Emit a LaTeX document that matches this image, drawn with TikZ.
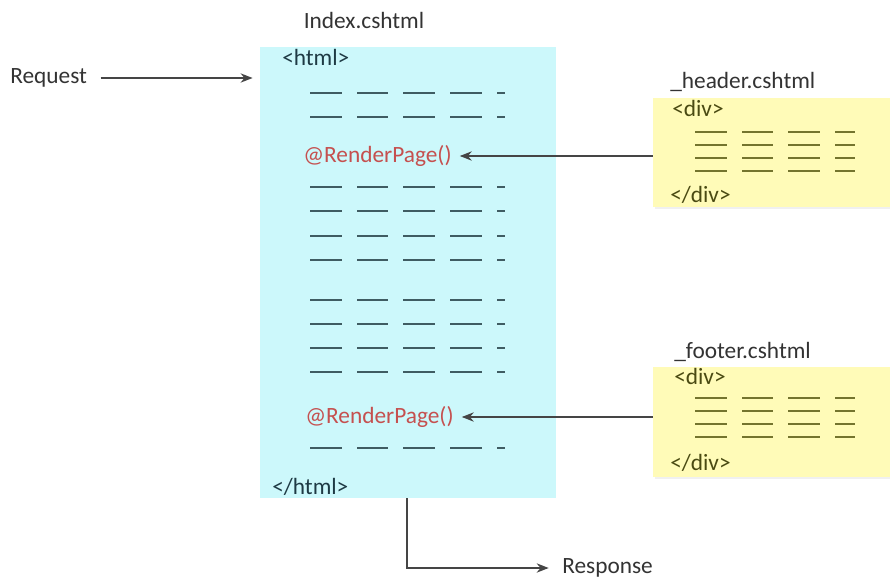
\documentclass[tikz,border=0pt]{standalone}
\usepackage{fontspec}
\setmainfont{Carlito}
\usetikzlibrary{arrows.meta}
\definecolor{pagecyan}{HTML}{CCF8FB}
\definecolor{partyellow}{HTML}{FFFBB8}
\definecolor{codeteal}{HTML}{1E3A44}
\definecolor{dashteal}{HTML}{3F5C62}
\definecolor{codeolive}{HTML}{4A4A12}
\definecolor{dasholive}{HTML}{74742E}
\definecolor{callred}{HTML}{C5504F}
\definecolor{linkgray}{HTML}{454545}
\tikzset{
  lbl/.style={font=\fontsize{17.5}{20}\selectfont, text=black!80, inner sep=0pt},
  code/.style={font=\fontsize{17.5}{20}\selectfont, text=codeteal, inner sep=0pt, anchor=west},
  partcode/.style={font=\fontsize{17.5}{20}\selectfont, text=codeolive, inner sep=0pt, anchor=west},
  call/.style={font=\fontsize{17.5}{20}\selectfont, text=callred, inner sep=0pt, anchor=west},
  pagebox/.style={fill=pagecyan, draw=none, inner sep=0pt},
  partbox/.style={fill=partyellow, draw=none, inner sep=0pt},
  link/.style={draw=linkgray, line width=1.1pt, -{Stealth[length=9pt,width=7pt]}},
  bluedash/.style={draw=dashteal, line width=1.7pt},
  olivedash/.style={draw=dasholive, line width=1.5pt},
}
\begin{document}
\begin{tikzpicture}[x=0.75pt,y=-0.75pt]
\useasboundingbox (0,0) rectangle (890,578);

% main page and the two partial views
\node[pagebox, minimum width=296*0.75pt, minimum height=451*0.75pt] (index) at (407.5,272.5) {};
\fill[black!6] (655,100) rectangle (890,209);
\node[partbox, minimum width=237*0.75pt, minimum height=109*0.75pt] (header) at (771.5,152.5) {};
\fill[black!6] (655,369) rectangle (890,479);
\node[partbox, minimum width=237*0.75pt, minimum height=110*0.75pt] (footer) at (771.5,422) {};

% file names
\node[lbl] (indexname) at (364,20) {Index.cshtml};
\node[lbl, anchor=west] (headername) at (670,82) {\_header.cshtml};
\node[lbl, anchor=west] (footername) at (674,352) {\_footer.cshtml};

% markup of Index.cshtml
\node[code] (htmlopen) at (282,57) {<html>};
\node[code] (htmlclose) at (272,487) {</html>};
\node[call] (rp1) at (303,156) {@RenderPage()};
\node[call] (rp2) at (305,417) {@RenderPage()};
\foreach \y in {93,117,187,211,236,260,300,324,348,372,448}{
  \foreach \a/\b in {310/342,357/388,403/435,450/482,497/505}{
    \draw[bluedash] (\a,\y) -- (\b,\y);
  }
}

% markup of the partial views
\node[partcode] (hdivopen) at (672,108) {<div>};
\node[partcode] (hdivclose) at (670,195) {</div>};
\node[partcode] (fdivopen) at (674,376) {<div>};
\node[partcode] (fdivclose) at (670,463) {</div>};
\foreach \y in {132,145,158,171,398,411,424,437}{
  \foreach \a/\b in {695/727,742/773,788/820,835/855}{
    \draw[olivedash] (\a,\y) -- (\b,\y);
  }
}

% request and response
\node[lbl, anchor=west] (req) at (10,78) {Request};
\node[lbl, anchor=west] (resp) at (562,568) {Response};
\coordinate (out) at (407,498);

\draw[link, shorten <=10pt, shorten >=5pt] (req.east) -- (req.east -| index.west);
\draw[link, shorten >=10pt] (out) |- (resp.west);
\draw[link, shorten >=6pt] (rp1.east -| header.west) -- (rp1.east);
\draw[link, shorten >=6pt] (rp2.east -| footer.west) -- (rp2.east);
\end{tikzpicture}
\end{document}
